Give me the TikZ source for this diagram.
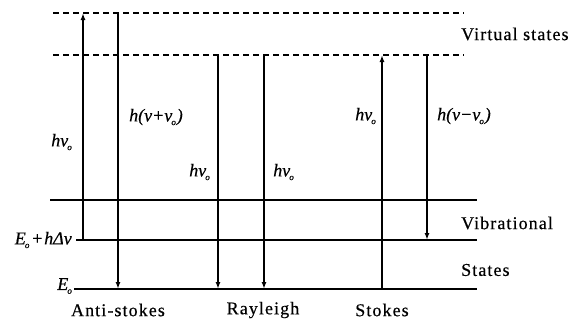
\documentclass[tikz,border=0pt]{standalone}
\usepackage{fontspec}
\setmainfont{Liberation Serif}
\newfontfamily\lblfont[LetterSpace=6,FakeBold=0.4]{Liberation Serif}
\newfontfamily\mathlblfont[FakeBold=0.5]{Liberation Serif}
\usetikzlibrary{arrows.meta}
\newcommand\subo{\kern-0.05em\raisebox{-0.45ex}{\fontsize{9}{9}\selectfont o}\kern0.05em}
\tikzset{
  level/.style={line width=1.4pt},
  vlevel/.style={line width=1.3pt, dash pattern=on 6pt off 4pt},
  trans/.style={line width=1.4pt, -{Latex[length=7pt,width=5pt]}},
  lbl/.style={font=\fontsize{18}{21}\lblfont, inner sep=0pt},
  mlbl/.style={font=\fontsize{18}{21}\mathlblfont\itshape, inner sep=0pt},
}
\begin{document}
\begin{tikzpicture}[x=1pt,y=-1pt]
\useasboundingbox (0,0) rectangle (574,322);
% level end points
\coordinate (v1l) at (53,13);   \coordinate (v1r) at (464,13);
\coordinate (v2l) at (53,55);   \coordinate (v2r) at (464,55);
\coordinate (s2l) at (50,200);  \coordinate (s2r) at (477,200);
\coordinate (s1l) at (76,240);  \coordinate (s1r) at (477,240);
\coordinate (g0l) at (74,289);  \coordinate (g0r) at (477,289);
\draw[vlevel] (v1l) -- (v1r);
\draw[vlevel] (v2l) -- (v2r);
\draw[level] (s2l) -- (s2r);
\draw[level] (s1l) -- (s1r);
\draw[level, line width=1.7pt] (g0l) -- (g0r);
% transition end points
\coordinate (a1b) at (83,240);  \coordinate (a1t) at (83,13);
\coordinate (a2t) at (118,13);  \coordinate (a2b) at (118,289);
\coordinate (r1t) at (218,55);  \coordinate (r1b) at (218,289);
\coordinate (r2t) at (264,55);  \coordinate (r2b) at (264,289);
\coordinate (s1b) at (382,289); \coordinate (s1t) at (382,55);
\coordinate (s2t) at (427,55);  \coordinate (s2b) at (427,240);
\draw[trans] (a1b) -- (a1t);
\draw[trans] (a2t) -- (a2b);
\draw[trans] (r1t) -- (r1b);
\draw[trans] (r2t) -- (r2b);
\draw[trans] (s1b) -- (s1t);
\draw[trans] (s2t) -- (s2b);
% transition labels
\node[mlbl] (la1) at (62,142) {hν\subo};
\node[mlbl] (la2) at (156,117) {h(ν+ν\subo)};
\node[mlbl] (lr1) at (200,172) {hν\subo};
\node[mlbl] (lr2) at (284,172) {hν\subo};
\node[mlbl] (ls1) at (366,116) {hν\subo};
\node[mlbl] (ls2) at (464,116) {h(ν−ν\subo)};
% level labels
\node[mlbl, anchor=east] (le1) at (72,240) {E\subo\kern0.05em+\kern0.05em hΔν};
\node[mlbl, anchor=south east] (le0) at (73,294) {E\subo};
\node[lbl, anchor=west] (lvs) at (461,34) {Virtual states};
\node[lbl, anchor=west] (lvib) at (461,223) {Vibrational};
\node[lbl, anchor=west] (lst) at (461,270) {States};
% bottom labels
\node[lbl] (lanti) at (118,310) {Anti-stokes};
\node[lbl] (lray) at (263,310) {Rayleigh};
\node[lbl] (lsto) at (382,310) {Stokes};
\end{tikzpicture}
\end{document}
